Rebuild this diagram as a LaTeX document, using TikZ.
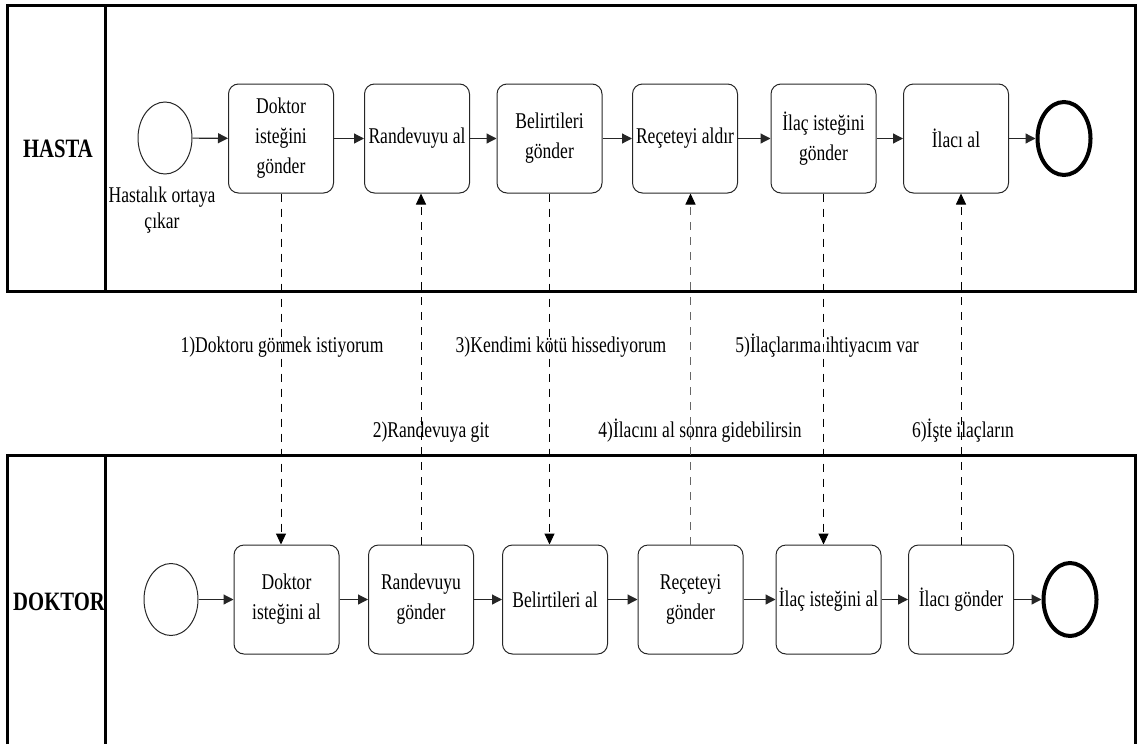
\documentclass[tikz,border=0pt]{standalone}
\usepackage{fontspec}
\setmainfont[FakeStretch=0.78]{Liberation Serif}
\usetikzlibrary{shapes.geometric,arrows.meta}
\newcommand\tskfont{\fontsize{22.5}{30}\selectfont}
\newcommand\msgfont{\fontsize{22.5}{26}\selectfont}
\newcommand\lanefont{\fontsize{26.5}{30}\selectfont\bfseries}
\begin{document}
\begin{tikzpicture}[x=1pt,y=-1pt,
  task/.style={draw=black!85,line width=1pt,rounded corners=10pt,
    minimum width=105pt,minimum height=109pt,align=center,inner sep=1pt,font=\tskfont},
  startev/.style={draw=black!85,line width=1pt,ellipse,inner sep=0pt,
    minimum width=54pt,minimum height=72pt},
  endev/.style={draw=black,line width=4pt,ellipse,inner sep=0pt,
    minimum width=53pt,minimum height=73pt},
  flow/.style={draw=black!85,line width=1.2pt,-{Triangle[length=10pt,width=10pt]}},
  msg/.style={draw=black,line width=1pt,dash pattern=on 8pt off 7pt,
    -{Triangle[length=11pt,width=10pt,color=black]}},
  msglabel/.style={font=\msgfont,inner sep=0pt,anchor=base},
  lane/.style={font=\lanefont,inner sep=0pt},
  pool/.style={draw=black,line width=3pt}]

\useasboundingbox (0,0) rectangle (1139,744);

% pools and lanes
\draw[pool] (7,5) rectangle (1135,291);
\draw[pool] (105,5) -- (105,291);
\draw[pool] (7,744) -- (7,455) -- (1135,455) -- (1135,744);
\draw[pool] (105,455) -- (105,744);
\node[lane] (hasta) at (58,149) {HASTA};
\node[lane] (doktor) at (59,602) {DOKTOR};

% patient lane
\node[startev] (ps) at (165,138) {};
\node[font=\msgfont,align=center,inner sep=0pt,anchor=base] (pslabel) at (162,228) {Hastalık ortaya\\çıkar};
\node[task] (p1) at (281,138.5) {Doktor\\isteğini\\gönder};
\node[task] (p2) at (417,138.5) {Randevuyu al};
\node[task] (p3) at (549.5,138.5) {Belirtileri\\gönder};
\node[task] (p4) at (685,138.5) {Reçeteyi aldır};
\node[task] (p5) at (823.5,138.5) {İlaç isteğini\\gönder};
\node[task] (p6) at (956,138.5) {İlacı al};
\node[endev] (pe) at (1064,138.5) {};

\draw[flow] (ps) -- (p1);
\draw[flow] (p1) -- (p2);
\draw[flow] (p2) -- (p3);
\draw[flow] (p3) -- (p4);
\draw[flow] (p4) -- (p5);
\draw[flow] (p5) -- (p6);
\draw[flow] (p6) -- (pe);

% doctor lane
\node[startev] (ds) at (171,599.5) {};
\node[task] (d1) at (286.5,599.5) {Doktor\\isteğini al};
\node[task] (d2) at (421,599.5) {Randevuyu\\gönder};
\node[task] (d3) at (555,599.5) {Belirtileri al};
\node[task] (d4) at (690.5,599.5) {Reçeteyi\\gönder};
\node[task] (d5) at (828.5,599.5) {İlaç isteğini al};
\node[task] (d6) at (961,599.5) {İlacı gönder};
\node[endev] (de) at (1070,599.5) {};

\draw[flow] (ds) -- (d1);
\draw[flow] (d1) -- (d2);
\draw[flow] (d2) -- (d3);
\draw[flow] (d3) -- (d4);
\draw[flow] (d4) -- (d5);
\draw[flow] (d5) -- (d6);
\draw[flow] (d6) -- (de);

% message flows between the lanes
\draw[msg] (p1.south) -- (p1.south |- d1.north);
\draw[msg] (d2.north) -- (d2.north |- p2.south);
\draw[msg] (p3.south) -- (p3.south |- d3.north);
\draw[msg,draw=black!60] (d4.north) -- (d4.north |- p4.south);
\draw[msg] (p5.south) -- (p5.south |- d5.north);
\draw[msg] (d6.north) -- (d6.north |- p6.south);

\node[msglabel] (m1) at (282,352) {1)Doktoru görmek istiyorum};
\node[msglabel] (m3) at (561,352) {3)Kendimi kötü hissediyorum};
\node[msglabel] (m5) at (827,352) {5)İlaçlarıma ihtiyacım var};
\node[msglabel] (m2) at (431,437) {2)Randevuya git};
\node[msglabel] (m4) at (700,437) {4)İlacını al sonra gidebilirsin};
\node[msglabel] (m6) at (963,437) {6)İşte ilaçların};
\end{tikzpicture}
\end{document}
